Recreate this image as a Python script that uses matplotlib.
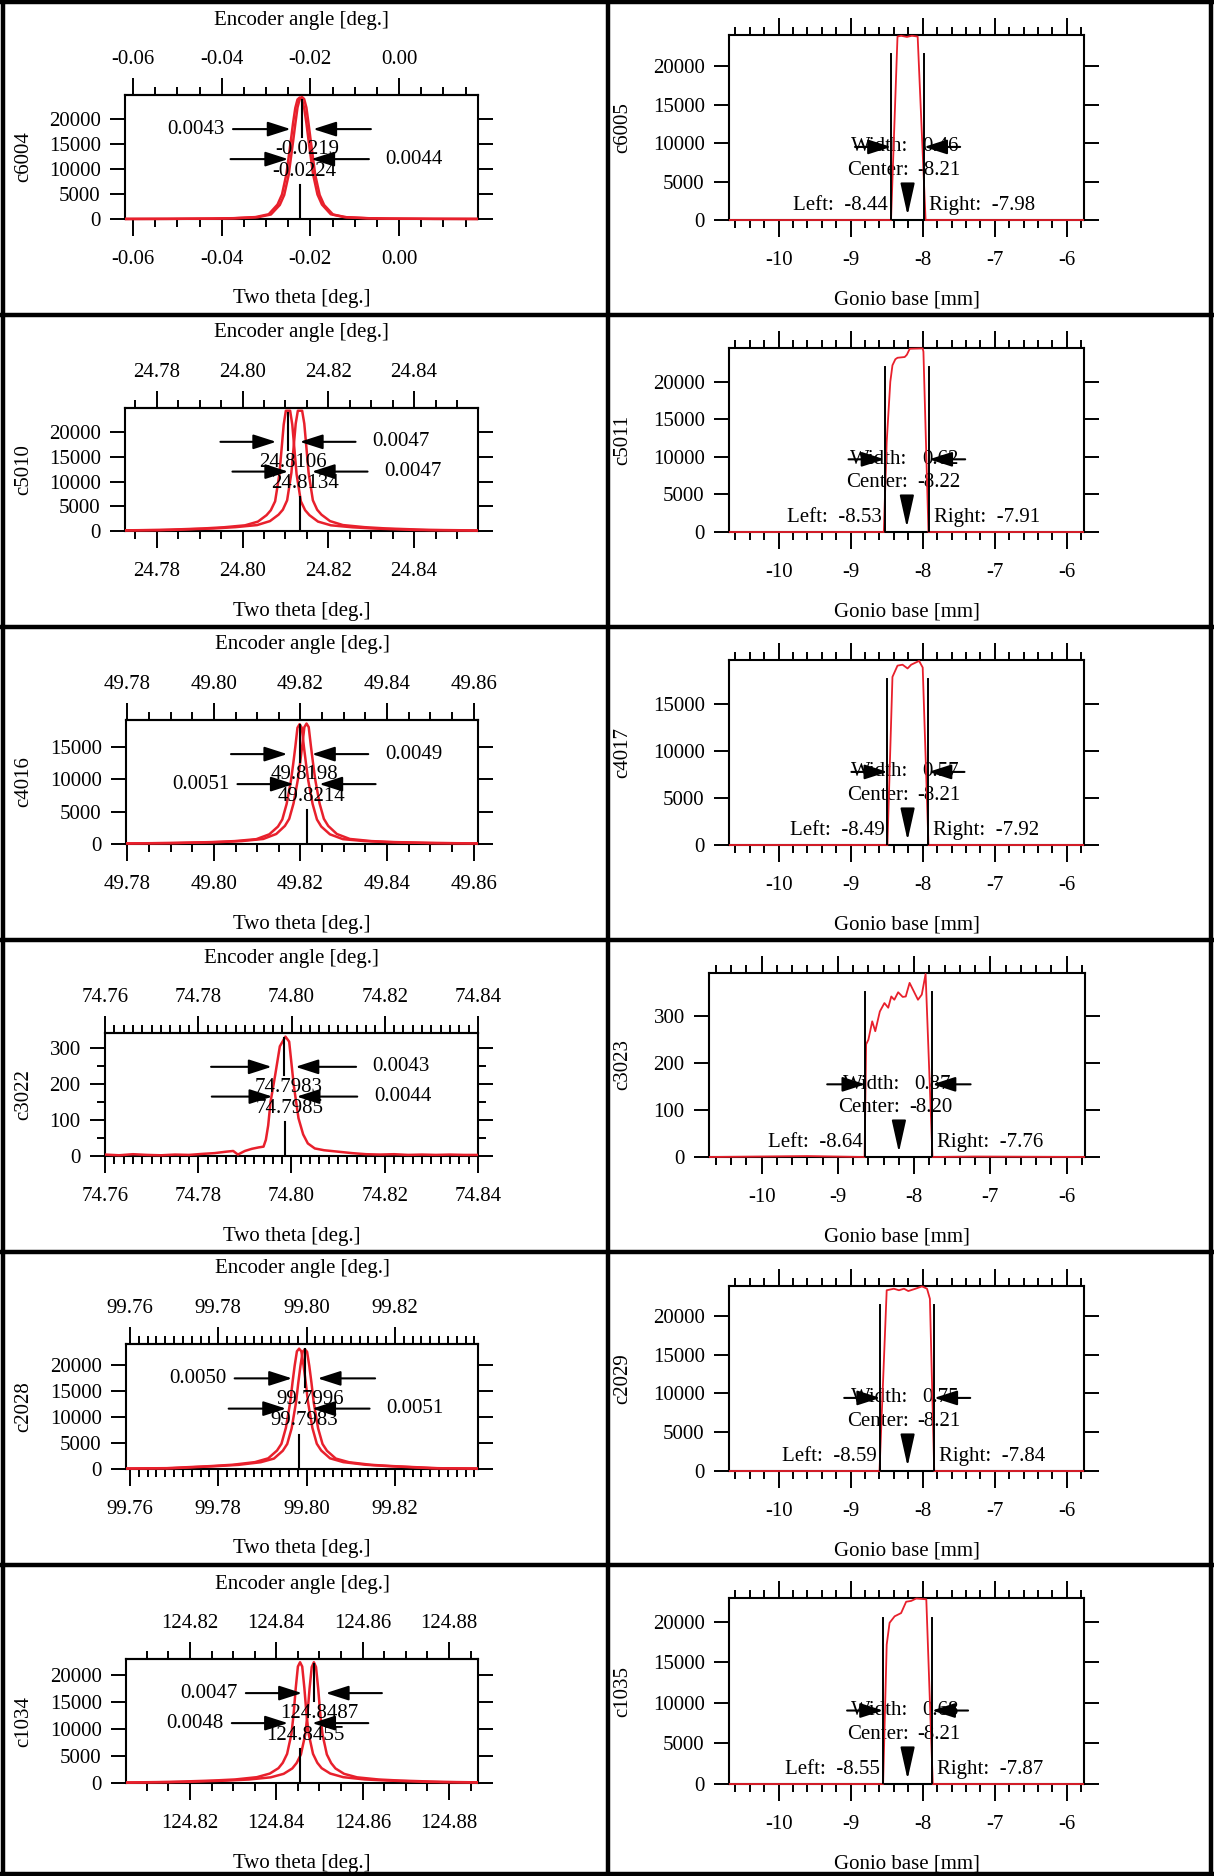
import matplotlib
matplotlib.use("Agg")
import matplotlib.pyplot as plt
from matplotlib.lines import Line2D
from matplotlib.patches import Rectangle
from matplotlib.ticker import MultipleLocator

plt.rcParams["font.family"] = ["Liberation Serif", "DejaVu Serif"]
plt.rcParams["font.size"] = 15
plt.rcParams["axes.unicode_minus"] = False

########################################################################################################################
# Data: two theta scans (left column)
########################################################################################################################

left_names = ["c6004", "c5010", "c4016", "c3022", "c2028", "c1034"]
left_xlim = [(-0.0618, 0.0178), (24.7726, 24.8549), (49.7797, 49.8610),
             (74.7600, 74.8400), (99.7591, 99.8388), (124.8052, 124.8867)]
left_ytop = [24800, 24850, 19200, 342, 24000, 23000]
left_xticks = [[-0.06, -0.04, -0.02, 0.00],
               [24.78, 24.80, 24.82, 24.84],
               [49.78, 49.80, 49.82, 49.84, 49.86],
               [74.76, 74.78, 74.80, 74.82, 74.84],
               [99.76, 99.78, 99.80, 99.82],
               [124.82, 124.84, 124.86, 124.88]]
left_xlabels = [["-0.06", "-0.04", "-0.02", "0.00"],
                ["24.78", "24.80", "24.82", "24.84"],
                ["49.78", "49.80", "49.82", "49.84", "49.86"],
                ["74.76", "74.78", "74.80", "74.82", "74.84"],
                ["99.76", "99.78", "99.80", "99.82"],
                ["124.82", "124.84", "124.86", "124.88"]]
left_xminor = [0.005, 0.005, 0.005, 0.002, 0.002, 0.005]
left_yticks = [[0, 5000, 10000, 15000, 20000],
               [0, 5000, 10000, 15000, 20000],
               [0, 5000, 10000, 15000],
               [0, 100, 200, 300],
               [0, 5000, 10000, 15000, 20000],
               [0, 5000, 10000, 15000, 20000]]

# peak centres (upper / lower marker), FWHM values and side of the FWHM label
left_centers = [(-0.0219, -0.0224), (24.8106, 24.8134), (49.8198, 49.8214),
                (74.7983, 74.7985), (99.7996, 99.7983), (124.8487, 124.8455)]
left_widths = [(0.0043, 0.0044), (0.0047, 0.0047), (0.0049, 0.0051),
               (0.0043, 0.0044), (0.0050, 0.0051), (0.0047, 0.0048)]
left_sides = [("left", "right"), ("right", "right"), ("right", "left"),
              ("right", "right"), ("left", "right"), ("left", "left")]

# peak profiles, sampled at offsets (mdeg) from each peak centre
peak_dx = [-45, -30, -20, -15, -10, -7, -5, -4, -3, -2, -1.5, -1, -0.5, 0,
           0.5, 1, 1.5, 2, 3, 4, 5, 7, 10, 15, 20, 30, 45]
c6004_a = [0, 30, 80, 150, 350, 900, 2800, 4800, 8800, 15500, 19000, 22300, 24000, 24400,
           24000, 22300, 19000, 15500, 8800, 4800, 2800, 900, 350, 150, 80, 30, 0]
c6004_b = [0, 30, 90, 160, 380, 950, 2900, 4900, 9000, 15700, 19200, 22200, 23900, 24300,
           23900, 22200, 19200, 15700, 9000, 4900, 2900, 950, 380, 160, 90, 30, 0]
c5010_a = [80, 200, 500, 750, 1150, 1900, 3200, 4200, 6000, 11500, 16500, 21500, 24300, 24300,
           24300, 21500, 16500, 11500, 6000, 4200, 3200, 1900, 1150, 750, 500, 200, 80]
c5010_b = [80, 220, 520, 780, 1200, 2000, 3300, 4300, 6200, 11800, 16800, 21700, 24300, 24300,
           24300, 21700, 16800, 11800, 6200, 4300, 3300, 2000, 1200, 780, 520, 220, 80]
c4016_a = [60, 150, 300, 450, 750, 1500, 2700, 3800, 6200, 9800, 12300, 15000, 18000, 18550,
           18000, 15000, 12300, 9800, 6200, 3800, 2700, 1500, 750, 450, 300, 150, 60]
c4016_b = [60, 150, 300, 450, 780, 1550, 2800, 3900, 6300, 10000, 12500, 15200, 18100, 18650,
           18100, 15200, 12500, 10000, 6300, 3900, 2800, 1550, 780, 450, 300, 150, 60]
c2028_a = [50, 150, 550, 800, 1300, 2000, 3500, 4800, 7800, 12800, 16500, 19800, 22500, 23000,
           22500, 19800, 16500, 12800, 7800, 4800, 3500, 2000, 1300, 800, 550, 150, 50]
c2028_b = [50, 160, 560, 820, 1320, 2050, 3550, 4850, 7900, 12900, 16600, 19900, 22600, 23100,
           22600, 19900, 16600, 12900, 7900, 4850, 3550, 2050, 1320, 820, 560, 160, 50]
c1034_a = [50, 200, 450, 650, 1050, 1700, 2700, 3700, 5300, 9000, 12600, 17500, 21500, 22400,
           21500, 17500, 12600, 9000, 5300, 3700, 2700, 1700, 1050, 650, 450, 200, 50]
c1034_b = [50, 200, 460, 660, 1080, 1750, 2750, 3750, 5400, 9100, 12700, 17600, 21600, 22400,
           21600, 17600, 12700, 9100, 5400, 3750, 2750, 1750, 1080, 660, 460, 200, 50]

# weak reflection c3022: one noisy scan
c3022_x = [74.757, 74.760, 74.763, 74.766, 74.769, 74.772, 74.775, 74.778, 74.781, 74.7835,
           74.786, 74.7875, 74.7885, 74.790, 74.7915, 74.793, 74.794, 74.7945, 74.795, 74.7955,
           74.7965, 74.7975, 74.7987, 74.7995, 74.8005, 74.8015, 74.8025, 74.8035, 74.805, 74.807,
           74.810, 74.813, 74.816, 74.819, 74.822, 74.825, 74.828, 74.831, 74.834, 74.837, 74.841]
c3022_y = [3, 4, 2, 5, 3, 2, 4, 3, 6, 8, 12, 14, 4, 14, 20, 24, 26, 45, 85, 150,
           225, 305, 332, 318, 195, 105, 60, 35, 21, 16, 12, 8, 5, 4, 5, 3, 4, 3, 4, 3, 3]

left_profiles = [(c6004_a, c6004_b), (c5010_a, c5010_b), (c4016_a, c4016_b),
                 None, (c2028_a, c2028_b), (c1034_a, c1034_b)]

########################################################################################################################
# Data: gonio base scans (right column)
########################################################################################################################

right_names = ["c6005", "c5011", "c4017", "c3023", "c2029", "c1035"]
right_ytop = [24100, 24500, 19700, 392, 23850, 22960]
right_yticks = [[0, 5000, 10000, 15000, 20000],
                [0, 5000, 10000, 15000, 20000],
                [0, 5000, 10000, 15000],
                [0, 100, 200, 300],
                [0, 5000, 10000, 15000, 20000],
                [0, 5000, 10000, 15000, 20000]]
right_xticks = [-10, -9, -8, -7, -6]
right_xlabels = ["-10", "-9", "-8", "-7", "-6"]
right_left = [-8.44, -8.53, -8.49, -8.64, -8.59, -8.55]
right_right = [-7.98, -7.91, -7.92, -7.76, -7.84, -7.87]
right_center = [-8.21, -8.22, -8.21, -8.20, -8.21, -8.21]
right_width = [0.46, 0.62, 0.57, 0.87, 0.75, 0.68]

c6005_x = [-10.7, -8.44, -8.35, -8.30, -8.22, -8.15, -8.07, -7.96, -5.7]
c6005_y = [0, 0, 23900, 24000, 23850, 24000, 23900, 0, 0]
c5011_x = [-10.7, -8.54, -8.50, -8.45, -8.42, -8.38, -8.35, -8.25, -8.22, -8.18, -8.00, -7.99, -7.92, -5.7]
c5011_y = [0, 0, 12000, 20000, 22200, 23000, 23200, 23300, 23600, 24400, 24450, 24000, 0, 0]
c4017_x = [-10.7, -8.49, -8.42, -8.35, -8.28, -8.21, -8.16, -8.05, -8.00, -7.92, -5.7]
c4017_y = [0, 0, 17900, 19100, 19200, 18800, 19200, 19600, 18900, 0, 0]
c3023_x = [-10.7, -9.4, -8.65, -8.63, -8.60, -8.55, -8.51, -8.45, -8.39, -8.34, -8.30, -8.26,
           -8.21, -8.15, -8.11, -8.06, -7.95, -7.90, -7.85, -7.76, -7.2, -5.7]
c3023_y = [0, 2, 0, 240, 250, 289, 268, 310, 328, 318, 342, 335,
           351, 341, 342, 371, 335, 346, 390, 0, 1, 0]
c2029_x = [-10.7, -8.60, -8.50, -8.40, -8.33, -8.26, -8.20, -8.10, -8.01, -7.94, -7.90, -7.84, -5.7]
c2029_y = [0, 0, 23300, 23500, 23300, 23500, 23200, 23500, 23800, 23500, 22200, 0, 0]
c1035_x = [-10.7, -8.55, -8.50, -8.46, -8.39, -8.30, -8.23, -8.16, -8.09, -7.95, -7.86, -5.7]
c1035_y = [0, 0, 17200, 19900, 20700, 21100, 22500, 22600, 22900, 22800, 0, 0]

right_curves = [(c6005_x, c6005_y), (c5011_x, c5011_y), (c4017_x, c4017_y),
                (c3023_x, c3023_y), (c2029_x, c2029_y), (c1035_x, c1035_y)]

########################################################################################################################
# Layout (pixels of the 1214 x 1876 page)
########################################################################################################################

W, H = 1214, 1876
RED = "#e8202c"
left_boxes = [(125, 95, 478, 219), (125, 408, 478, 531), (126, 720, 478, 844),
              (105, 1033, 478, 1156), (126, 1344, 478, 1469), (126, 1659, 478, 1783)]
right_boxes = [(729, 35, 1084, 220), (729, 348, 1084, 532), (729, 660, 1084, 845),
               (709, 973, 1085, 1157), (729, 1286, 1084, 1471), (729, 1598, 1084, 1784)]

fig = plt.figure(figsize=(W / 100, H / 100), dpi=100)
fig.patch.set_facecolor("white")


def px_rect(b):
    x0, y0, x1, y1 = b
    return [x0 / W, 1 - y1 / H, (x1 - x0) / W, (y1 - y0) / H]


def px_text(x, y, s, **kw):
    fig.text(x / W, 1 - y / H, s, ha="center", va="center", **kw)


def style_axes(ax):
    for sp in ax.spines.values():
        sp.set_linewidth(1.5)
    ax.tick_params(axis="x", which="major", direction="out", length=12.5, width=1.4, pad=10)
    ax.tick_params(axis="x", which="minor", direction="out", length=6, width=1.4)
    ax.tick_params(axis="y", which="major", direction="out", length=11, width=1.4, pad=6.5, right=True)
    ax.tick_params(axis="y", which="minor", direction="out", length=5.5, width=1.4, right=True)


arrow_kw = dict(arrowstyle="-|>,head_length=1.4,head_width=0.45", mutation_scale=10,
                lw=1.5, color="black", shrinkA=0, shrinkB=0)

########################################################################################################################
# Left column
########################################################################################################################

for i in range(6):
    ax = fig.add_axes(px_rect(left_boxes[i]))
    ax.set_xlim(*left_xlim[i])
    ax.set_ylim(0, left_ytop[i])
    style_axes(ax)
    ax.set_xticks(left_xticks[i], labels=left_xlabels[i])
    ax.xaxis.set_minor_locator(MultipleLocator(left_xminor[i]))
    ax.set_yticks(left_yticks[i], labels=[str(v) for v in left_yticks[i]])
    if left_names[i] == "c3022":
        ax.yaxis.set_minor_locator(MultipleLocator(50))

    # top axis (encoder angle)
    sec = ax.secondary_xaxis("top")
    sec.spines["top"].set_linewidth(1.5)
    sec.set_ticks(left_xticks[i], labels=left_xlabels[i])
    sec.xaxis.set_minor_locator(MultipleLocator(left_xminor[i]))
    sec.tick_params(axis="x", which="major", direction="out", length=12, width=1.4, pad=6.5)
    sec.tick_params(axis="x", which="minor", direction="out", length=6, width=1.4)

    # curves
    clip = Rectangle((0, -0.03), 1, 1.06, transform=ax.transAxes)
    if left_profiles[i] is None:
        curves = [(c3022_x, c3022_y)]
    else:
        curves = []
        for c, prof in zip(left_centers[i], left_profiles[i]):
            curves.append(([c + d / 1000 for d in peak_dx], prof))
    for cx, cy in curves:
        ln, = ax.plot(cx, cy, color=RED, lw=1.8, zorder=4)
        ln.set_clip_path(clip)

    # centre markers, FWHM arrows and labels
    trans = ax.get_xaxis_transform()
    c_up, c_lo = left_centers[i]
    ax.plot([c_up, c_up], [0.96, 0.66], transform=trans, color="k", lw=1.5, zorder=5)
    ax.plot([c_lo, c_lo], [0.0, 0.275], transform=trans, color="k", lw=1.5, zorder=5)
    for c, yl in zip(left_centers[i], [0.56, 0.385]):
        ax.annotate(f"{c:.4f}", xy=(c, yl), xycoords=trans, xytext=(3.6, 0),
                    textcoords="offset points", ha="center", va="center", zorder=6)
    for c, w, side, lev in zip(left_centers[i], left_widths[i], left_sides[i], [0.725, 0.483]):
        tip = w / 2 + 0.0004
        ax.annotate("", xy=(c - tip, lev), xycoords=trans, xytext=(c - tip - 0.013, lev),
                    textcoords=trans, arrowprops=arrow_kw, zorder=6)
        ax.annotate("", xy=(c + tip, lev), xycoords=trans, xytext=(c + tip + 0.013, lev),
                    textcoords=trans, arrowprops=arrow_kw, zorder=6)
        if side == "left":
            ax.annotate(f"{w:.4f}", xy=(c - tip - 0.013, lev), xycoords=trans, xytext=(-5.8, 0),
                        textcoords="offset points", ha="right", va="center")
        else:
            ax.annotate(f"{w:.4f}", xy=(c + tip + 0.013, lev), xycoords=trans, xytext=(12, 0),
                        textcoords="offset points", ha="left", va="center")

    x0, y0, x1, y1 = left_boxes[i]
    px_text((x0 + x1) / 2, y0 - 75, "Encoder angle [deg.]")
    px_text((x0 + x1) / 2, y1 + 80, "Two theta [deg.]")
    px_text(24, (y0 + y1) / 2, left_names[i], rotation=90)

########################################################################################################################
# Right column
########################################################################################################################

for i in range(6):
    ax = fig.add_axes(px_rect(right_boxes[i]))
    ax.set_xlim(-10.69, -5.76)
    ax.set_ylim(0, right_ytop[i])
    style_axes(ax)
    ax.tick_params(axis="x", which="both", top=True, labeltop=False)
    ax.set_xticks(right_xticks, labels=right_xlabels)
    ax.xaxis.set_minor_locator(MultipleLocator(0.2))
    ax.set_yticks(right_yticks[i], labels=[str(v) for v in right_yticks[i]])

    cx, cy = right_curves[i]
    ln, = ax.plot(cx, cy, color=RED, lw=1.3, zorder=4)
    ln.set_clip_path(Rectangle((0, -0.03), 1, 1.06, transform=ax.transAxes))

    trans = ax.get_xaxis_transform()
    L, R, C = right_left[i], right_right[i], right_center[i]
    ax.plot([L, L], [0, 0.895], transform=trans, color="k", lw=1.4, zorder=5)
    ax.plot([R, R], [0, 0.895], transform=trans, color="k", lw=1.4, zorder=5)

    ax.annotate("Width:", xy=(C, 0.395), xycoords=trans, xytext=(0.7, 0),
                textcoords="offset points", ha="right", va="center")
    ax.annotate(f"{right_width[i]:.2f}", xy=(C, 0.395), xycoords=trans, xytext=(10.8, 0),
                textcoords="offset points", ha="left", va="center")
    ax.annotate("Center:", xy=(C, 0.267), xycoords=trans, xytext=(0.7, 0),
                textcoords="offset points", ha="right", va="center")
    ax.annotate(f"{C:.2f}", xy=(C, 0.267), xycoords=trans, xytext=(7.2, 0),
                textcoords="offset points", ha="left", va="center")
    ax.annotate(f"Left:  {L:.2f}", xy=(L, 0.08), xycoords=trans, xytext=(-2.2, 0),
                textcoords="offset points", ha="right", va="center")
    ax.annotate(f"Right:  {R:.2f}", xy=(R, 0.08), xycoords=trans, xytext=(3.6, 0),
                textcoords="offset points", ha="left", va="center")

    ax.annotate("", xy=(L, 0.395), xycoords=trans, xytext=(L - 0.5, 0.395),
                textcoords=trans, arrowprops=arrow_kw, zorder=6)
    ax.annotate("", xy=(R, 0.395), xycoords=trans, xytext=(R + 0.5, 0.395),
                textcoords=trans, arrowprops=arrow_kw, zorder=6)
    ax.annotate("", xy=(C, 0.025), xycoords=trans, xytext=(C, 0.175), textcoords=trans,
                arrowprops=dict(arrowstyle="-|>,head_length=1.8,head_width=0.4", mutation_scale=11,
                                lw=1.4, color="black", shrinkA=0, shrinkB=0), zorder=6)

    x0, y0, x1, y1 = right_boxes[i]
    px_text((x0 + x1) / 2, y1 + 80, "Gonio base [mm]")
    px_text(623, (y0 + y1) / 2, right_names[i], rotation=90)

########################################################################################################################
# Panel frames
########################################################################################################################

for yb in [2, 315, 627, 940, 1252, 1565, 1874]:
    fig.add_artist(Line2D([0, 1], [1 - yb / H] * 2, color="k", lw=3.2))
for xb in [3, 608, 1211]:
    fig.add_artist(Line2D([xb / W] * 2, [0, 1], color="k", lw=3.2))

fig.savefig("out.png", dpi=100)
